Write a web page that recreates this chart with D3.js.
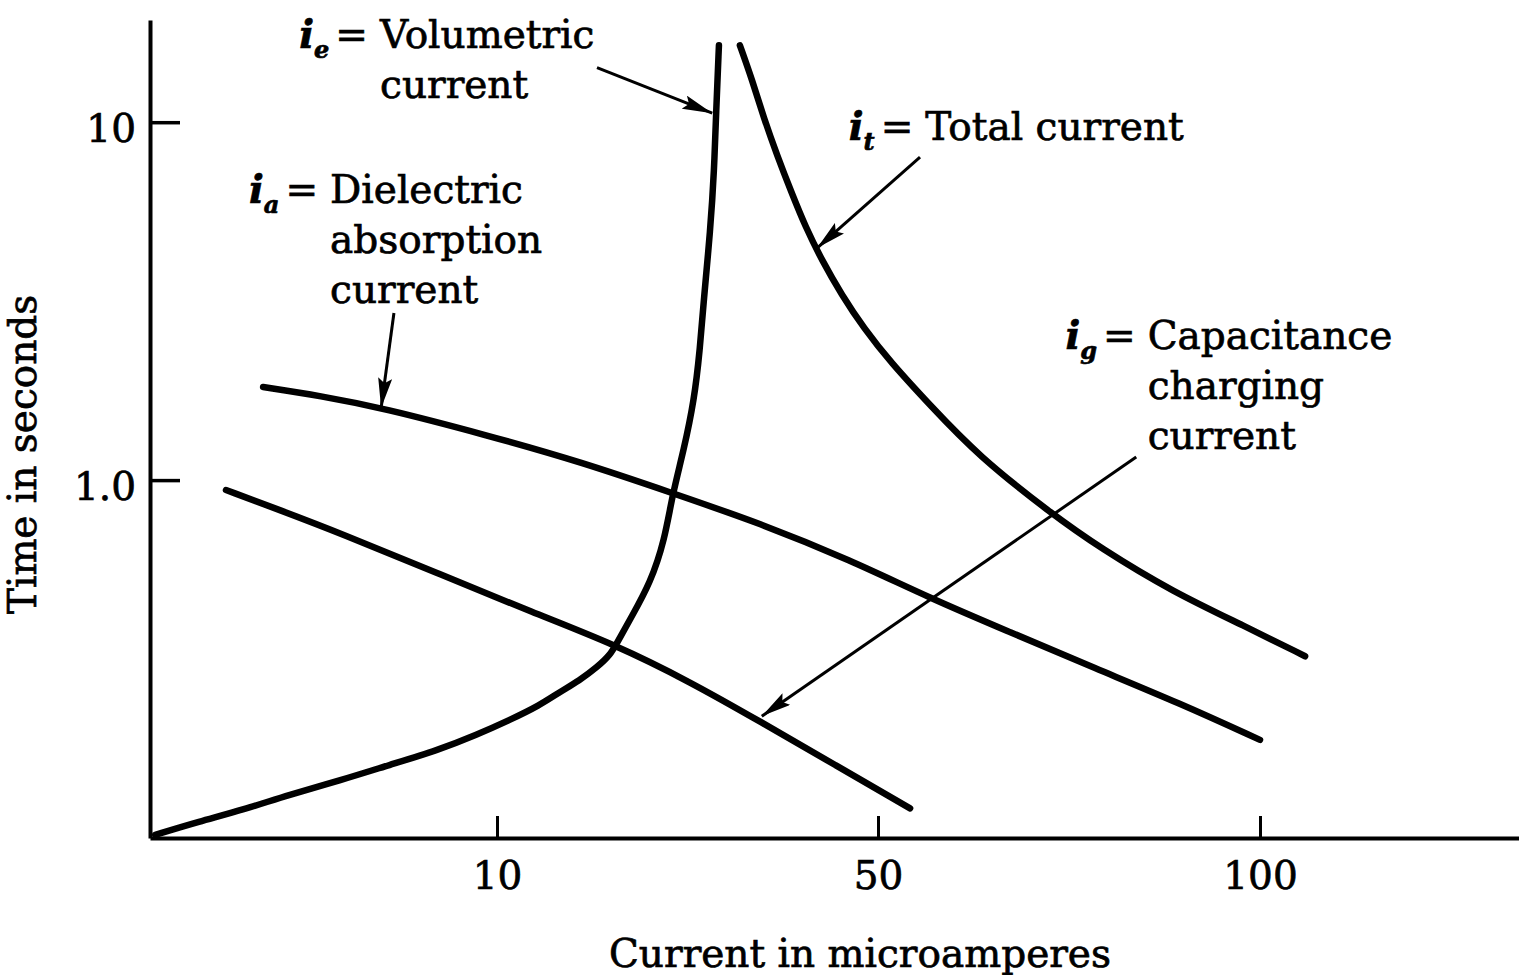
<!DOCTYPE html>
<html><head><meta charset="utf-8">
<script src="https://cdn.jsdelivr.net/npm/d3@7"></script>
<style>
body{margin:0;background:#fff;}
svg{display:block;background:#fff;}
text{font-family:"DejaVu Serif","Liberation Serif",serif;fill:#000;stroke:#000;stroke-width:0.7px;}
</style>
</head><body>
<svg id="chart" width="1519" height="975"></svg>
<script>
// ---------- data (current in microamperes vs time in seconds) ----------
const xTickValues = [10, 50, 100];
const xTickLabels = ["10", "50", "100"];
const yTickValues = [1, 10];
const yTickLabels = ["1.0", "10"];
const xAxisTitle = "Current in microamperes";
const yAxisTitle = "Time in seconds";

// i_e : volumetric current
const volumetricX = [0.15, 1.4, 2.7, 4.0, 5.5, 6.9, 8.3, 9.4, 11.4, 14.5, 16.4, 18.7, 20.5, 21.9, 22.6, 24.1, 26.1, 27.6, 28.4, 29.6, 30.7, 31.3, 31.7, 32.4, 32.8, 33.0, 33.3];
const volumetricY = [0.102, 0.111, 0.120, 0.132, 0.145, 0.160, 0.176, 0.194, 0.214, 0.235, 0.254, 0.276, 0.300, 0.325, 0.351, 0.414, 0.516, 0.680, 0.908, 1.21, 1.67, 2.31, 3.18, 4.99, 7.34, 10.6, 16.4];
// i_t : total current
const totalX = [35.5, 36.8, 38.0, 39.4, 40.9, 42.4, 44.1, 46.2, 48.5, 51.6, 56.8, 63.1, 72.6, 79.1, 88.6, 98.0, 105.9];
const totalY = [16.4, 13.1, 10.3, 8.09, 6.38, 5.09, 4.12, 3.29, 2.66, 2.14, 1.62, 1.17, 0.809, 0.646, 0.487, 0.391, 0.322];
// i_a : dielectric absorption current
const absorptionX = [3.26, 4.90, 6.71, 9.65, 19.0, 28.4, 37.6, 47.1, 56.8, 67.3, 78.4, 89.5, 100];
const absorptionY = [1.82, 1.72, 1.59, 1.34, 1.12, 0.920, 0.758, 0.598, 0.468, 0.376, 0.298, 0.238, 0.188];
// i_g : capacitance charging current
const chargingX = [2.19, 3.75, 5.48, 8.27, 13.9, 22.3, 30.3, 37.7, 45.5, 54.2];
const chargingY = [0.938, 0.824, 0.711, 0.550, 0.425, 0.348, 0.273, 0.211, 0.160, 0.121];

// annotations (anchored in data units)
const annotationSubscripts = ["e", "t", "a", "g"];
const annotationLines = [["Volumetric", "current"], ["Total current"], ["Dielectric", "absorption", "current"], ["Capacitance", "charging", "current"]];
const annotationTextX = [6.63, 56.2, 5.19, 85.3];
const annotationTextY = [16.1, 8.91, 5.94, 2.32];
const arrowFromX = [20.5, 55.5, 7.03, 83.8];
const arrowFromY = [14.2, 7.99, 2.93, 1.16];
const arrowToX = [32.6, 43.6, 6.66, 37.8];
const arrowToY = [10.6, 4.45, 1.59, 0.219];

// ---------- chart ----------
const svg = d3.select("#chart");
const x = d3.scaleLinear().domain([0, 10, 50, 100, 134]).range([150, 497, 878, 1260, 1520]);
const y = d3.scaleLog().domain([0.1, 19.3]).range([838, 20]);

const FS = 39;

// x axis
const gx = svg.append("g").attr("transform", `translate(0,${y(0.1)})`)
  .call(d3.axisBottom(x).tickValues(xTickValues).tickFormat((d, i) => xTickLabels[i])
    .tickSizeInner(-22).tickSizeOuter(0).tickPadding(23));
gx.select(".domain").attr("stroke", "#000").attr("stroke-width", 4);
gx.selectAll(".tick line").attr("stroke", "#000").attr("stroke-width", 3);
gx.selectAll(".tick text").attr("font-family", null).style("font-size", FS + "px").attr("fill", "#000");

// y axis
const gy = svg.append("g").attr("transform", `translate(${x(0)},0)`)
  .call(d3.axisLeft(y).tickValues(yTickValues).tickFormat((d, i) => yTickLabels[i])
    .tickSizeInner(-30).tickSizeOuter(0).tickPadding(14));
gy.select(".domain").attr("stroke", "#000").attr("stroke-width", 4);
gy.selectAll(".tick line").attr("stroke", "#000").attr("stroke-width", 3.5);
gy.selectAll(".tick text").attr("font-family", null).style("font-size", FS + "px").attr("fill", "#000").attr("dy", "0.5em");

// axis titles
svg.append("text").attr("x", (x(0) + x(134)) / 2 + 25).attr("y", 967)
  .attr("text-anchor", "middle").style("font-size", FS + "px").text(xAxisTitle);
svg.append("text").attr("transform", `translate(36,${y(1.18)}) rotate(-90)`)
  .attr("text-anchor", "middle").style("font-size", FS + "px").text(yAxisTitle);

// curves
const series = [
  [volumetricX, volumetricY],
  [totalX, totalY],
  [absorptionX, absorptionY],
  [chargingX, chargingY]
];
const line = d3.line().x(d => x(d[0])).y(d => y(d[1])).curve(d3.curveBasis);
svg.append("g").selectAll("path").data(series).join("path")
  .attr("d", s => line(s[0].map((v, i) => [v, s[1][i]])))
  .attr("fill", "none").attr("stroke", "#000").attr("stroke-width", 6.5)
  .attr("stroke-linecap", "round").attr("stroke-linejoin", "round");

// arrow marker
svg.append("defs").append("marker").attr("id", "ah")
  .attr("viewBox", "0 -7 30 14").attr("refX", 30).attr("refY", 0)
  .attr("markerWidth", 30).attr("markerHeight", 14).attr("markerUnits", "userSpaceOnUse")
  .attr("orient", "auto")
  .append("path").attr("d", "M0,-7L30,0L0,7L5,0Z").attr("fill", "#000");

svg.append("g").selectAll("line").data(annotationSubscripts).join("line")
  .attr("x1", (d, i) => x(arrowFromX[i])).attr("y1", (d, i) => y(arrowFromY[i]))
  .attr("x2", (d, i) => x(arrowToX[i])).attr("y2", (d, i) => y(arrowToY[i]))
  .attr("stroke", "#000").attr("stroke-width", 3).attr("marker-end", "url(#ah)");

// annotation labels
const LH = 50;
annotationSubscripts.forEach((sub, i) => {
  const tx = x(annotationTextX[i]);
  const ty = y(annotationTextY[i]);
  const lead = svg.append("text").attr("x", tx - 12).attr("y", ty)
    .attr("text-anchor", "end").style("font-size", FS + "px");
  lead.append("tspan").style("font-style", "italic").style("font-weight", "bold").text("i");
  lead.append("tspan").style("font-style", "italic").style("font-weight", "bold").style("font-size", "24px").attr("dy", 10).text(sub);
  lead.append("tspan").attr("dy", -10).attr("dx", 6).text("=");
  annotationLines[i].forEach((t, k) => {
    svg.append("text").attr("x", tx).attr("y", ty + k * LH).style("font-size", FS + "px").text(t);
  });
});
</script>
</body></html>
